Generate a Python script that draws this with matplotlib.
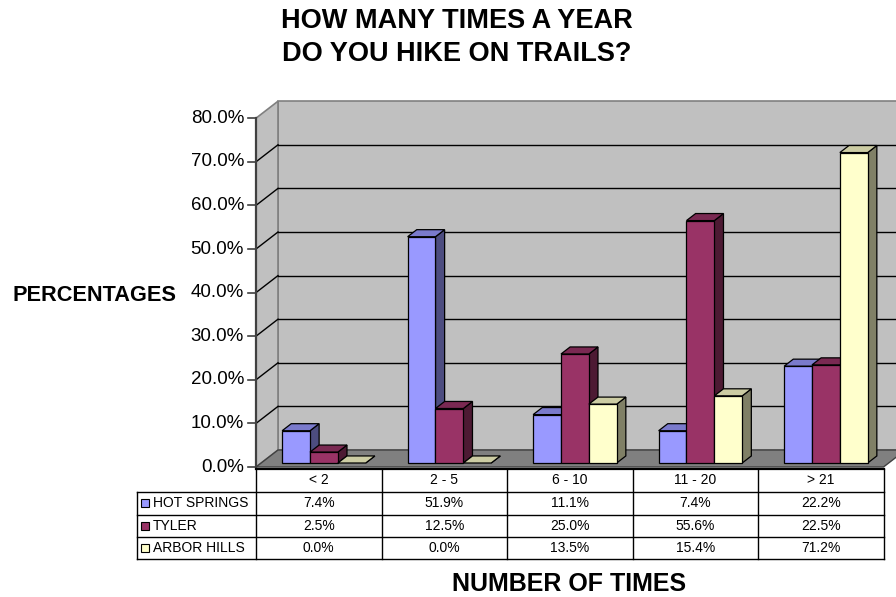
import matplotlib
matplotlib.use("Agg")
import matplotlib.pyplot as plt
from matplotlib.patches import Polygon, Rectangle

plt.rcParams['font.family'] = ['Liberation Sans', 'DejaVu Sans']

# ---- data ----
categories = ["< 2", "2 - 5", "6 - 10", "11 - 20", "> 21"]
series_names = ["HOT SPRINGS", "TYLER", "ARBOR HILLS"]
hot_springs = [7.4, 51.9, 11.1, 7.4, 22.2]
tyler = [2.5, 12.5, 25.0, 55.6, 22.5]
arbor_hills = [0.0, 0.0, 13.5, 15.4, 71.2]
y_ticks = [0, 10, 20, 30, 40, 50, 60, 70, 80]
series_values = [hot_springs, tyler, arbor_hills]

# ---- styling ----
face = ["#9999FF", "#993366", "#FFFFCC"]
top = ["#7A7ACC", "#7A2952", "#CCCCA3"]
side = ["#4D4D80", "#4D1A33", "#808066"]

W_PX, H_PX = 896, 597
X0_PX, Y0_PX = 256.0, 467.0      # pixel position of category 0 / value 0 on the front plane
XS, YS = 125.5, 4.36             # pixels per category, pixels per percent

fig = plt.figure(figsize=(W_PX / 100, H_PX / 100), dpi=100)
ax = fig.add_axes([0, 0, 1, 1])
ax.set_xlim(-X0_PX / XS, (W_PX - X0_PX) / XS)
ax.set_ylim((Y0_PX - H_PX) / YS, Y0_PX / YS)
ax.axis("off")


def px_x(d):
    return d / XS


def px_y(d):
    return d / YS


n_cat = len(categories)
y_max = y_ticks[-1]
DX, DY = px_x(22), px_y(17)      # depth of the floor / walls
f0, f1 = 0.235, 0.65             # depth slice taken by the bars
bw = 0.222
gap = (1 - len(series_names) * bw) / 2

wall = "#C0C0C0"
# back wall and left side wall
ax.add_patch(Polygon([(DX, DY), (n_cat + DX, DY), (n_cat + DX, y_max + DY), (DX, y_max + DY)],
                     closed=True, facecolor=wall, edgecolor="#808080", lw=1.2, zorder=1))
ax.add_patch(Polygon([(0, 0), (DX, DY), (DX, y_max + DY), (0, y_max)],
                     closed=True, facecolor=wall, edgecolor="#808080", lw=1.2, zorder=1))
# gridlines on both walls
for v in y_ticks[1:-1]:
    ax.plot([DX, n_cat + DX], [v + DY, v + DY], color="black", lw=1.0, zorder=2)
    ax.plot([0, DX], [v, v + DY], color="black", lw=1.0, zorder=2)
# floor
ax.add_patch(Polygon([(0, 0), (n_cat, 0), (n_cat + DX, DY), (DX, DY)],
                     closed=True, facecolor="#808080", edgecolor="#404040", lw=1.0, zorder=3))

# bars
ddx, ddy = (f1 - f0) * DX, (f1 - f0) * DY
for i in range(n_cat):
    for j, vals in enumerate(series_values):
        v = vals[i]
        xl = i + gap + j * bw + f0 * DX
        yb = f0 * DY
        xr = xl + bw
        kw = dict(edgecolor="black", lw=0.9, zorder=4 + i * 3 + j, joinstyle="miter")
        ax.add_patch(Polygon([(xr, yb), (xr + ddx, yb + ddy), (xr + ddx, yb + ddy + v), (xr, yb + v)],
                             closed=True, facecolor=side[j], **kw))
        ax.add_patch(Polygon([(xl, yb + v), (xr, yb + v), (xr + ddx, yb + v + ddy), (xl + ddx, yb + v + ddy)],
                             closed=True, facecolor=top[j], **kw))
        if v > 0:
            ax.add_patch(Rectangle((xl, yb), bw, v, facecolor=face[j], **kw))

# front value axis with ticks and labels
ax.plot([0, 0], [0, y_max], color="#404040", lw=1.6, zorder=30)
for v in y_ticks:
    ax.plot([-px_x(8), 0], [v, v], color="#404040", lw=1.2, zorder=30)
    ax.text(-px_x(12), v, f"{v:.1f}%", ha="right", va="center", fontsize=13.5, zorder=30)

# data table below the floor
row_top = [-px_y(2), -px_y(25), -px_y(47.5), -px_y(70)]
row_bot = -px_y(92)
leg_left = -px_x(X0_PX - 137)
ax.plot([0, n_cat], [row_top[0], row_top[0]], color="black", lw=1.6, zorder=30)
for r in row_top[1:] + [row_bot]:
    ax.plot([leg_left, n_cat], [r, r], color="black", lw=1.0, zorder=30)
ax.plot([leg_left, leg_left], [row_top[1], row_bot], color="black", lw=1.0, zorder=30)
for k in range(n_cat + 1):
    ax.plot([k, k], [row_top[0], row_bot], color="black", lw=1.0, zorder=30)

for i, c in enumerate(categories):
    ax.text(i + 0.5, (row_top[0] + row_top[1]) / 2, c, ha="center", va="center", fontsize=10)
rows = row_top[1:] + [row_bot]
for j, name in enumerate(series_names):
    yc = (rows[j] + rows[j + 1]) / 2
    ax.add_patch(Rectangle((leg_left + px_x(4), yc - px_y(4)), px_x(8), px_y(8),
                           facecolor=face[j], edgecolor="black", lw=0.8, zorder=31))
    ax.text(leg_left + px_x(16), yc, name, ha="left", va="center", fontsize=10)
    for i in range(n_cat):
        ax.text(i + 0.5, yc, f"{series_values[j][i]:.1f}%", ha="center", va="center", fontsize=10)

# titles
fig.text(457 / W_PX, 1 - 28.3 / H_PX, "HOW MANY TIMES A YEAR", ha="center", va="baseline",
         fontsize=19.5, fontweight="bold")
fig.text(457 / W_PX, 1 - 60.7 / H_PX, "DO YOU HIKE ON TRAILS?", ha="center", va="baseline",
         fontsize=19.5, fontweight="bold")
fig.text(12 / W_PX, 1 - 301 / H_PX, "PERCENTAGES", ha="left", va="baseline",
         fontsize=15.7, fontweight="bold")
fig.text(569 / W_PX, 1 - 591 / H_PX, "NUMBER OF TIMES", ha="center", va="baseline",
         fontsize=18, fontweight="bold")

fig.savefig("out.png", dpi=100)
